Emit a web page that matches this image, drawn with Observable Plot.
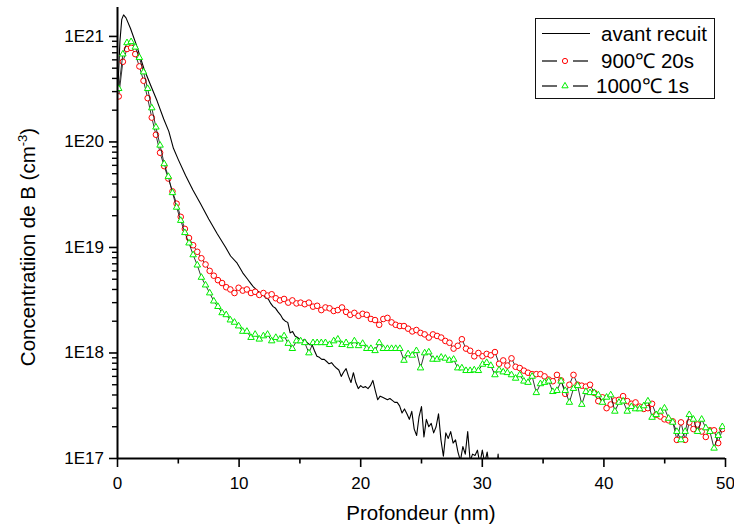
<!DOCTYPE html>
<html><head><meta charset="utf-8">
<script src="https://cdn.jsdelivr.net/npm/d3@7"></script>
<script src="https://cdn.jsdelivr.net/npm/@observablehq/plot@0.6"></script>
<style>html,body{margin:0;padding:0;background:#fff;} #chart{width:734px;height:527px;}</style>
</head><body><div id="chart"></div>
<script>
// ---- data ----
const seriesNames = ["avant recuit", "900℃ 20s", "1000℃ 1s"];
// annealed profiles share a regular depth grid (nm)
const gridStart = 0.1, gridStep = 0.34;
const conc900 = [2.7e20,5.75e20,7.6e20,7.8e20,6.8e20,5.2e20,3.8e20,2.6e20,1.7e20,1.17e20,
7.9e19,5.9e19,4.5e19,3.4e19,2.6e19,1.95e19,1.5e19,1.23e19,1.05e19,9.1e18,
7.9e18,6.9e18,6.0e18,5.4e18,4.9e18,4.6e18,4.2e18,4.0e18,3.7e18,4.15e18,
3.9e18,4.0e18,3.7e18,3.8e18,3.55e18,3.7e18,3.5e18,3.6e18,3.3e18,3.15e18,
3.25e18,3.0e18,3.15e18,2.95e18,3.0e18,2.9e18,3.0e18,2.75e18,2.8e18,2.55e18,
2.7e18,2.65e18,2.5e18,2.55e18,2.7e18,2.45e18,2.3e18,2.4e18,2.25e18,2.35e18,
2.3e18,2.1e18,2.05e18,1.85e18,2.1e18,2.15e18,1.95e18,1.85e18,1.8e18,1.8e18,
1.7e18,1.6e18,1.65e18,1.55e18,1.5e18,1.4e18,1.5e18,1.45e18,1.4e18,1.3e18,
1.25e18,1.1e18,1.17e18,1.35e18,1.1e18,1.05e18,9.3e17,1.0e18,9.3e17,9.8e17,
9.5e17,1.02e18,7.9e17,8.5e17,7.6e17,8.9e17,7.4e17,7.2e17,6.8e17,6.5e17,
6.3e17,6.3e17,6.3e17,6.0e17,5.6e17,5.4e17,6.2e17,5.5e17,4.1e17,5.0e17,
6.2e17,5.0e17,4.9e17,4.8e17,5.0e17,4.2e17,3.5e17,3.8e17,3.0e17,3.25e17,
3.55e17,3.6e17,3.9e17,3.5e17,3.3e17,3.4e17,3.1e17,2.95e17,3.0e17,3.3e17,
2.6e17,2.5e17,2.35e17,2.3e17,2.25e17,1.5e17,2.2e17,1.5e17,2.2e17,1.9e17,
2.1e17,1.8e17,1.6e17,1.85e17,1.85e17,1.4e17,1.9e17];
const conc1000 = [3.2e20,6.8e20,8.7e20,8.9e20,7.9e20,6.3e20,4.6e20,3.2e20,2.1e20,1.38e20,
9.3e19,6.2e19,4.7e19,3.3e19,2.4e19,1.8e19,1.38e19,1.1e19,8.5e18,6.8e18,
5.2e18,4.4e18,3.7e18,3.1e18,2.75e18,2.4e18,2.3e18,2.05e18,1.95e18,1.8e18,
1.6e18,1.6e18,1.4e18,1.5e18,1.35e18,1.45e18,1.5e18,1.3e18,1.4e18,1.35e18,
1.45e18,1.23e18,1.1e18,1.3e18,1.3e18,1.25e18,1.0e18,1.25e18,1.25e18,1.25e18,
1.25e18,1.2e18,1.3e18,1.35e18,1.2e18,1.25e18,1.17e18,1.3e18,1.17e18,1.23e18,
1.1e18,1.1e18,1.05e18,1.25e18,1.1e18,1.1e18,1.1e18,1.1e18,1.1e18,8.5e17,
9.8e17,9.5e17,1.05e18,7.2e17,1.0e18,1.02e18,8.7e17,8.7e17,9.1e17,8.9e17,
8.5e17,8.7e17,7.2e17,7.2e17,6.8e17,6.8e17,6.9e17,6.8e17,7.8e17,8.1e17,
7.6e17,6.2e17,6.9e17,6.6e17,6.5e17,6.2e17,5.75e17,6.2e17,5.4e17,5.25e17,
6.0e17,4.2e17,5.1e17,5.25e17,5.4e17,4.3e17,4.4e17,5.4e17,4.4e17,3.4e17,
4.6e17,4.9e17,3.25e17,4.3e17,4.2e17,4.2e17,4.0e17,3.4e17,3.8e17,4.0e17,
2.8e17,3.4e17,3.5e17,2.8e17,3.1e17,2.95e17,2.95e17,3.15e17,3.5e17,2.45e17,
2.6e17,2.8e17,3.0e17,2.4e17,2.2e17,1.8e17,1.5e17,1.8e17,2.6e17,2.35e17,
1.8e17,2.35e17,1.95e17,1.8e17,1.25e17,1.65e17,2.0e17];
// as-implanted profile (depth nm, concentration cm^-3)
const depthAvant = [0.02,0.2,0.35,0.5,0.7,1.07,1.6,2.16,2.7,3.26,3.8,4.22,4.6,5.0,5.6,6.2,6.83,7.5,8.2,8.9,9.3,9.84,10.3,10.7,
11.0,11.2,11.4,11.6,11.8,12.0,12.2,12.4,12.6,12.8,13.0,13.2,13.4,13.6,13.8,14.0,14.2,14.4,14.6,14.8,
15.0,15.2,15.4,15.6,15.8,16.0,16.2,16.4,16.6,16.8,17.0,17.2,17.4,17.6,17.8,18.0,18.2,18.4,18.6,18.8,
19.0,19.2,19.4,19.6,19.8,20.0,20.2,20.4,20.6,20.8,21.0,21.2,21.4,21.6,21.8,22.0,22.2,22.4,22.6,22.8,
23.0,23.2,23.4,23.6,23.8,24.0,24.2,24.4,24.6,24.8,25.0,25.2,25.4,25.6,25.8,26.0,26.2,26.4,26.6,26.8,
27.0,27.2,27.4,27.6,27.8,28.0,28.2,28.4,28.6,28.8,29.0,29.2,29.4,29.6,29.8,30.0,30.2,30.4,30.6,30.8,
31.0,31.2,31.3,31.4];
const concAvant = [3.0e20,9.0e20,1.45e21,1.6e21,1.5e21,1.19e21,8.0e20,5.0e20,3.5e20,2.44e20,1.65e20,1.26e20,8.7e19,6.8e19,4.8e19,3.5e19,2.6e19,1.86e19,1.35e19,1.0e19,8.3e18,7.1e18,5.75e18,5.0e18,
4.5e18,4.2e18,4.0e18,3.8e18,3.7e18,3.55e18,3.3e18,3.25e18,2.95e18,2.75e18,
2.65e18,2.45e18,2.3e18,2.1e18,2.0e18,1.95e18,1.55e18,1.6e18,1.45e18,1.4e18,
1.35e18,1.3e18,1.35e18,1.25e18,1.2e18,1.2e18,1.05e18,9.3e17,9.1e17,8.7e17,
8.7e17,8.3e17,7.9e17,8.1e17,7.6e17,7.2e17,6.9e17,6.0e17,6.6e17,7.1e17,
6.0e17,5.25e17,6.5e17,5.25e17,4.6e17,4.9e17,4.7e17,4.8e17,4.6e17,4.9e17,
5.5e17,4.4e17,3.6e17,3.9e17,3.8e17,3.7e17,3.6e17,3.7e17,3.55e17,3.4e17,
3.4e17,3.15e17,2.7e17,2.95e17,2.65e17,2.35e17,2.8e17,1.9e17,1.65e17,2.5e17,
3.1e17,1.6e17,2.35e17,2.0e17,2.15e17,1.75e17,2.0e17,2.65e17,1.5e17,1.05e17,
1.75e17,1.55e17,1.8e17,1.4e17,1.5e17,1.15e17,9.5e16,1.3e17,1.1e17,1.8e17,
9.5e16,1.1e17,1.07e17,1.2e17,8.9e16,1.2e17,9.1e16,1.15e17,7.9e16,8.9e16,
7.9e16,8.3e16,1.1e17,7.9e16];
const xTicks = [0,10,20,30,40,50];
const xMinorTicks = [5,15,25,35,45];
const yTicks = [1e17,1e18,1e19,1e20,1e21];
const yTickLabels = ["1E17","1E18","1E19","1E20","1E21"];
const yMinorTicks = [17,18,19,20].flatMap(e => [2,3,4,5,6,7,8,9].map(m => m * Math.pow(10, e)));
const xTitle = "Profondeur (nm)";
const yTitle = "Concentratiion de B (cm";

// ---- build tables ----
const avant = depthAvant.map((x, i) => ({x, y: concAvant[i]}));
const s900 = conc900.map((y, i) => ({x: gridStart + i * gridStep, y}));
const s1000 = conc1000.map((y, i) => ({x: gridStart + i * gridStep, y}));

const FONT = "'Liberation Sans', Arial, Helvetica, sans-serif";
const triUp = {draw(ctx, size) {
  const r = Math.sqrt(size / Math.PI), s = r * 2.6, h = s * Math.sqrt(3) / 2;
  ctx.moveTo(0, -2 * h / 3); ctx.lineTo(s / 2, h / 3); ctx.lineTo(-s / 2, h / 3); ctx.closePath();
}};

const svgNode = Plot.plot({
  width: 734, height: 527,
  marginLeft: 117, marginRight: 9, marginTop: 7, marginBottom: 69,
  style: {fontFamily: FONT, fontSize: "17px", background: "white", color: "black"},
  x: {domain: [0, 50]},
  y: {type: "log", domain: [1e17, 1.88e21]},
  marks: [
    Plot.line(avant, {x: "x", y: "y", stroke: "black", strokeWidth: 1.1, clip: true}),
    Plot.line(s900, {x: "x", y: "y", stroke: "black", strokeWidth: 0.8, clip: true}),
    Plot.dot(s900, {x: "x", y: "y", r: 2.8, stroke: "#ff0000", fill: "white", strokeWidth: 1, clip: true}),
    Plot.line(s1000, {x: "x", y: "y", stroke: "black", strokeWidth: 0.8, clip: true}),
    Plot.dot(s1000, {x: "x", y: "y", r: 2.5, symbol: triUp, stroke: "#00ee00", fill: "white", strokeWidth: 1, clip: true}),
    Plot.axisX({ticks: xTicks, tickSize: 9, tickPadding: 9, tickFormat: d => String(d), label: null, strokeWidth: 1.6}),
    Plot.axisX({ticks: xMinorTicks, tickSize: 5.5, tickFormat: () => "", label: null, strokeWidth: 1.6}),
    Plot.axisY({ticks: yTicks, tickSize: 8, tickPadding: 5.5, tickFormat: d => yTickLabels[yTicks.indexOf(d)], label: null, strokeWidth: 1.6}),
    Plot.axisY({ticks: yMinorTicks, tickSize: 5, tickFormat: () => "", label: null, strokeWidth: 1.4}),
    Plot.ruleX([0], {stroke: "black", strokeWidth: 2}),
    Plot.ruleY([1e17], {stroke: "black", strokeWidth: 2})
  ]
});

const svg = d3.select(svgNode);
// axis titles
svg.append("text").attr("x", 421).attr("y", 520).attr("text-anchor", "middle")
  .attr("font-family", FONT).attr("font-size", 20.5).attr("fill", "black").text(xTitle);
const yt = svg.append("text").attr("transform", "translate(35,247) rotate(-90)").attr("text-anchor", "middle")
  .attr("font-family", FONT).attr("font-size", 20.5).attr("fill", "black");
yt.append("tspan").text(yTitle);
yt.append("tspan").attr("dy", -8).attr("font-size", 13).text("-3");
yt.append("tspan").attr("dy", 8).text(")");

// legend
const lg = svg.append("g").attr("font-family", FONT).attr("font-size", 20.5).attr("fill", "black").attr("text-anchor", "start");
lg.append("rect").attr("x", 535.5).attr("y", 18.5).attr("width", 179).attr("height", 80)
  .attr("fill", "white").attr("stroke", "#111").attr("stroke-width", 1);
lg.append("line").attr("x1", 542).attr("x2", 590).attr("y1", 33.5).attr("y2", 33.5).attr("stroke", "black").attr("stroke-width", 1.2);
lg.append("text").attr("x", 601).attr("y", 40.5).attr("text-anchor", "start").text(seriesNames[0]);
[[61, 67.5, 601, 1], [86, 93, 596, 2]].forEach(([y, ty, tx, k]) => {
  lg.append("line").attr("x1", 542).attr("x2", 557).attr("y1", y).attr("y2", y).attr("stroke", "black").attr("stroke-width", 1.2);
  lg.append("line").attr("x1", 573).attr("x2", 588).attr("y1", y).attr("y2", y).attr("stroke", "black").attr("stroke-width", 1.2);
  if (k === 1) lg.append("circle").attr("cx", 565).attr("cy", y).attr("r", 2.6).attr("fill", "white").attr("stroke", "#ff0000");
  else lg.append("path").attr("transform", `translate(565,${y})`).attr("d", d3.symbol(triUp, Math.PI * 2.4 * 2.4)()).attr("fill", "white").attr("stroke", "#00ee00");
  lg.append("text").attr("x", tx).attr("y", ty).attr("text-anchor", "start").text(seriesNames[k]);
});

document.getElementById("chart").appendChild(svgNode);
</script></body></html>
